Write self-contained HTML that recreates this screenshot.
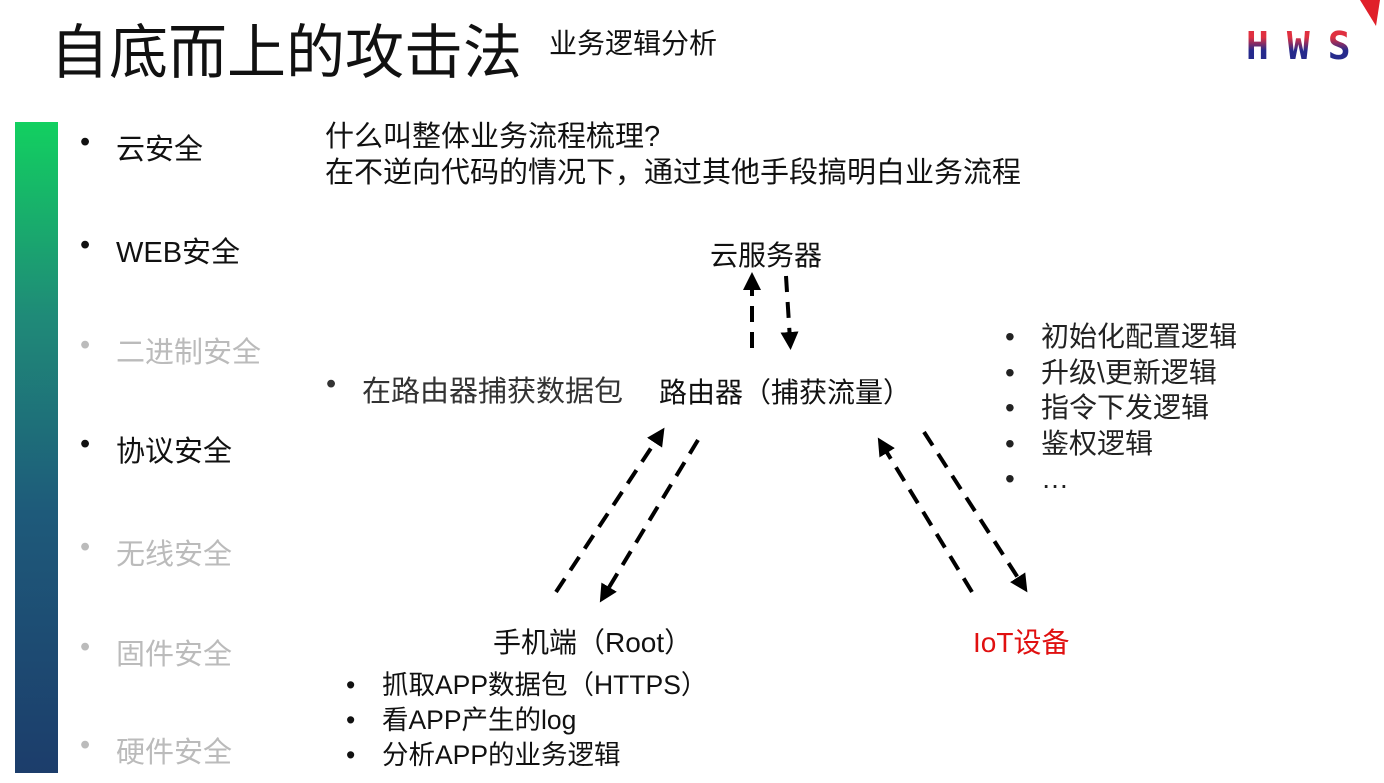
<!DOCTYPE html>
<html><head><meta charset="utf-8"><style>
body{margin:0;width:1384px;height:783px;background:#fff;position:relative;overflow:hidden;font-family:"Liberation Sans","Noto Sans CJK SC",sans-serif;color:#111}
.t{position:absolute;white-space:nowrap}
.bar{position:absolute;left:15px;top:122px;width:43px;height:651px;background:linear-gradient(#12d060,#1f8a78 30%,#1e5a7a 60%,#1c3d6b)}
.side{font-size:29px}
.g{color:#bbb}
.dot::before{content:"•";position:absolute;left:-36px}
</style></head><body>
<div class="t" style="left:50px;top:5px;font-size:59px">自底而上的攻击法</div>
<div class="t" style="left:549px;top:22px;font-size:28px">业务逻辑分析</div>
<div class="t" style="left:1246px;top:24px;font-size:38px;font-weight:bold;letter-spacing:18px;background:linear-gradient(#e03040 30%,#262a8c 60%);-webkit-background-clip:text;color:transparent;font-family:'DejaVu Sans Mono',monospace">HWS</div>
<svg style="position:absolute;left:1350px;top:0" width="34" height="30"><polygon points="10,0 30,0 26,26" fill="#e0202a"/></svg>
<div class="bar"></div>
<div class="t side dot" style="left:116px;top:126px">云安全</div>
<div class="t side dot" style="left:116px;top:229px">WEB安全</div>
<div class="t side dot g" style="left:116px;top:329px">二进制安全</div>
<div class="t side dot" style="left:116px;top:428px">协议安全</div>
<div class="t side dot g" style="left:116px;top:531px">无线安全</div>
<div class="t side dot g" style="left:116px;top:631px">固件安全</div>
<div class="t side dot g" style="left:116px;top:729px">硬件安全</div>
<div class="t" style="left:325px;top:119px;font-size:29px;line-height:36px">什么叫整体业务流程梳理?<br>在不逆向代码的情况下，通过其他手段搞明白业务流程</div>
<div class="t" style="left:710px;top:234px;font-size:28px">云服务器</div>
<div class="t" style="left:659px;top:371px;font-size:28px">路由器（捕获流量）</div>
<div class="t dot" style="left:362px;top:368px;font-size:29px;color:#333">在路由器捕获数据包</div>
<div class="t" style="left:493px;top:621px;font-size:28px">手机端（Root）</div>
<div class="t" style="left:973px;top:621px;font-size:28px;color:#e01010">IoT设备</div>
<div class="t" style="left:1041px;top:319px;font-size:28px;line-height:35.5px;color:#222">
<div class="dot" style="position:relative">初始化配置逻辑</div><div class="dot" style="position:relative">升级\更新逻辑</div><div class="dot" style="position:relative">指令下发逻辑</div><div class="dot" style="position:relative">鉴权逻辑</div><div class="dot" style="position:relative">…</div></div>
<div class="t" style="left:382px;top:668px;font-size:26.5px;line-height:35px">
<div class="dot" style="position:relative">抓取APP数据包（HTTPS）</div><div class="dot" style="position:relative">看APP产生的log</div><div class="dot" style="position:relative">分析APP的业务逻辑</div></div>
<svg style="position:absolute;left:0;top:0" width="1384" height="783">
<defs><marker id="a" markerWidth="4.5" markerHeight="4.5" refX="2" refY="2.25" orient="auto"><path d="M0,0L4.5,2.25L0,4.5z" fill="#000"/></marker></defs>
<g stroke="#000" stroke-width="4" stroke-dasharray="16,10" fill="none" marker-end="url(#a)">
<line x1="752" y1="348" x2="752" y2="282"/>
<line x1="786" y1="276" x2="790" y2="340"/>
<line x1="556" y1="592" x2="659" y2="436"/>
<line x1="698" y1="440" x2="605" y2="594"/>
<line x1="972" y1="592" x2="883" y2="446"/>
<line x1="924" y1="432" x2="1022" y2="584"/>
</g></svg>
</body></html>
